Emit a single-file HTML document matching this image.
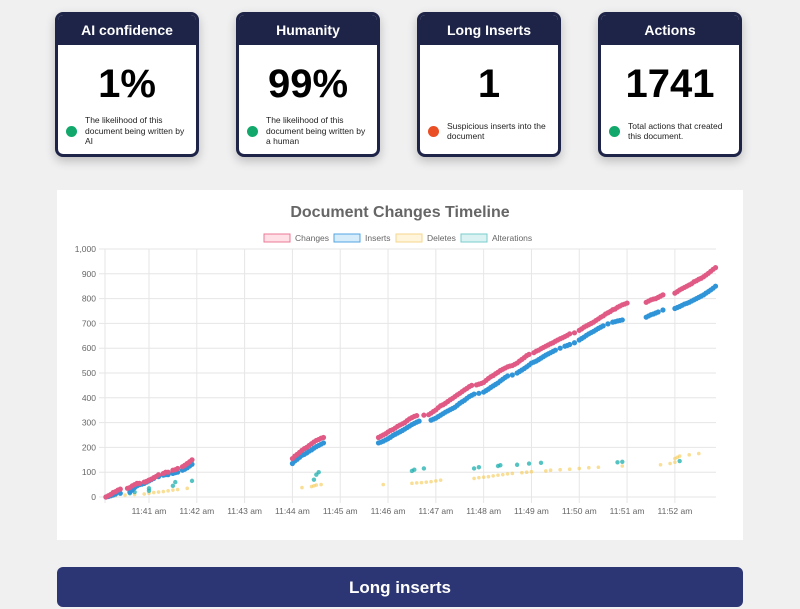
<!DOCTYPE html>
<html><head><meta charset="utf-8"><style>
body{margin:0;width:800px;height:600px;background:#f0f0f1;font-family:"Liberation Sans",sans-serif;overflow:hidden;position:relative}
.card{position:absolute;top:12px;width:138px;height:139px;border:3px solid #1e2447;border-radius:8px;background:#fff;box-shadow:0 4px 10px rgba(0,0,0,.22);overflow:hidden}
.card .hd{background:#1e2447;color:#fff;font-weight:bold;font-size:14px;text-align:center;height:30px;line-height:30px}
.card .val{font-size:40px;font-weight:bold;text-align:center;margin-top:14px;height:50px;line-height:50px;color:#000}
.card .desc{position:absolute;left:8px;right:6px;top:98px;height:36px;display:flex;align-items:center}
.card .dot{width:11px;height:11px;border-radius:50%;flex:none;margin-right:8px}
.card .desc span{font-size:8.5px;line-height:10.5px;color:#222}
#chartbox{position:absolute;left:57px;top:190px;width:686px;height:350px;background:#fff}
#bar{position:absolute;left:57px;top:567px;width:686px;height:40px;background:#2d3674;border-radius:6px;color:#fff;font-weight:bold;font-size:17px;text-align:center;line-height:42px}
</style></head><body>
<div class="card" style="left:55px"><div class="hd">AI confidence</div><div class="val">1%</div><div class="desc"><div class="dot" style="background:#13a86b"></div><span>The likelihood of this document being written by AI</span></div></div>
<div class="card" style="left:236px"><div class="hd">Humanity</div><div class="val">99%</div><div class="desc"><div class="dot" style="background:#13a86b"></div><span>The likelihood of this document being written by a human</span></div></div>
<div class="card" style="left:417px"><div class="hd">Long Inserts</div><div class="val">1</div><div class="desc"><div class="dot" style="background:#ea4e24"></div><span>Suspicious inserts into the document</span></div></div>
<div class="card" style="left:598px"><div class="hd">Actions</div><div class="val">1741</div><div class="desc"><div class="dot" style="background:#13a86b"></div><span>Total actions that created this document.</span></div></div>
<div id="chartbox">
<svg id="chart" width="686" height="350" style="font-family:'Liberation Sans',sans-serif"></svg>
</div>
<div id="bar">Long inserts</div>
<script>
const yTicks=[0,100,200,300,400,500,600,700,800,900,1000];
const xTickMinutes=[41,42,43,44,45,46,47,48,49,50,51,52];
const seriesNames=["Changes","Inserts","Deletes","Alterations"];
const changesT=[40.1,40.15,40.2,40.25,40.3,40.35,40.4,40.55,40.6,40.65,40.7,40.75,40.8,40.9,40.95,41.0,41.05,41.1,41.15,41.2,41.3,41.35,41.4,41.5,41.55,41.6,41.7,41.75,41.8,41.85,41.9,
44.0,44.05,44.1,44.15,44.2,44.25,44.3,44.35,44.4,44.45,44.5,44.55,44.6,44.65,
45.8,45.85,45.9,45.95,46.0,46.05,46.1,46.15,46.2,46.25,46.3,46.35,46.4,46.45,46.5,46.55,46.6,46.75,46.85,46.9,46.95,47.0,47.05,47.1,47.15,47.2,47.25,47.3,47.35,47.4,47.45,47.5,47.55,47.6,47.65,47.7,47.75,47.85,47.9,47.95,48.0,48.05,48.1,48.15,48.2,48.25,48.3,48.35,48.4,48.45,48.5,48.55,48.6,48.65,48.7,48.75,48.8,48.85,48.9,48.95,49.05,49.1,49.15,49.2,49.25,49.3,49.35,49.4,49.45,49.5,49.55,49.6,49.65,49.7,49.75,49.8,49.9,50.0,50.05,50.1,50.15,50.2,50.25,50.3,50.35,50.4,50.45,50.5,50.55,50.6,50.65,50.7,50.75,50.8,50.85,50.9,50.95,51.0,51.4,51.45,51.5,51.55,51.6,51.65,51.7,51.75,52.0,52.05,52.1,52.15,52.2,52.25,52.3,52.35,52.4,52.45,52.5,52.55,52.6,52.65,52.7,52.75,52.8,52.85];
const changesV=[0,5,10,18,22,28,32,35,38,45,50,55,55,60,63,68,72,78,83,90,95,100,100,108,110,115,122,128,135,142,150,
155,165,172,180,188,195,200,208,215,222,228,232,237,240,
240,245,250,255,262,268,272,278,285,290,295,300,308,315,320,325,328,330,332,338,345,351,360,368,372,378,385,392,398,405,412,418,425,432,438,445,450,452,455,458,462,470,478,485,490,497,503,510,515,520,525,528,530,535,540,548,555,562,570,575,582,588,592,598,603,608,613,618,622,628,633,638,642,647,652,658,662,672,678,685,690,695,700,705,712,718,725,730,738,743,748,755,758,765,770,775,778,782,785,790,795,798,800,805,810,815,822,828,835,840,845,850,855,860,868,872,878,882,888,895,902,910,918,925];
const insertsT=[40.1,40.15,40.2,40.25,40.3,40.4,40.6,40.65,40.7,40.75,40.8,40.85,40.9,40.95,41.0,41.05,41.1,41.2,41.3,41.35,41.4,41.5,41.55,41.6,41.7,41.75,41.8,41.85,41.9,
44.0,44.05,44.1,44.15,44.2,44.25,44.3,44.35,44.4,44.45,44.5,44.55,44.6,44.65,
45.8,45.85,45.9,45.95,46.0,46.05,46.1,46.15,46.2,46.25,46.3,46.35,46.4,46.45,46.5,46.55,46.6,46.65,46.9,46.95,47.0,47.05,47.1,47.15,47.2,47.25,47.3,47.35,47.4,47.45,47.5,47.55,47.6,47.65,47.7,47.75,47.8,47.9,48.0,48.05,48.1,48.15,48.2,48.25,48.3,48.35,48.4,48.45,48.5,48.6,48.7,48.75,48.8,48.85,48.9,48.95,49.0,49.05,49.1,49.15,49.2,49.25,49.3,49.35,49.4,49.45,49.5,49.6,49.7,49.75,49.8,49.9,50.0,50.05,50.1,50.15,50.2,50.25,50.3,50.35,50.4,50.45,50.5,50.6,50.7,50.75,50.8,50.85,50.9,51.4,51.45,51.5,51.55,51.6,51.65,51.75,52.0,52.05,52.1,52.15,52.2,52.25,52.3,52.35,52.4,52.45,52.5,52.55,52.6,52.65,52.7,52.75,52.8,52.85];
const insertsV=[0,2,5,8,12,15,20,28,38,45,50,52,55,60,65,70,75,82,88,90,90,95,98,100,108,112,118,125,132,
135,145,152,160,168,172,178,185,190,197,203,208,213,218,
218,221,225,230,235,241,248,253,258,263,268,274,280,286,292,297,302,306,310,314,318,324,330,336,342,347,352,357,362,370,378,384,390,398,405,410,415,418,423,429,435,442,448,454,460,468,475,482,488,492,500,506,512,518,525,532,540,544,548,554,560,566,572,577,582,587,592,600,608,611,615,622,633,639,645,652,658,663,668,674,680,685,690,698,705,707,710,712,714,725,730,735,738,742,746,754,760,764,768,773,778,781,785,790,795,800,805,810,815,822,828,835,842,850];
const deletesT=[40.1,40.3,40.5,40.7,40.9,41.0,41.1,41.2,41.3,41.4,41.5,41.6,41.8,44.2,44.4,44.45,44.5,44.6,45.9,46.5,46.6,46.7,46.8,46.9,47.0,47.1,47.8,47.9,48.0,48.1,48.2,48.3,48.4,48.5,48.6,48.8,48.9,49.0,49.3,49.4,49.6,49.8,50.0,50.2,50.4,50.9,51.7,51.9,52.0,52.0,52.05,52.1,52.3,52.5];
const deletesV=[0,5,8,10,12,15,18,20,22,25,28,30,35,38,42,45,48,50,50,55,57,58,60,62,65,68,75,78,80,82,85,88,90,93,95,98,100,102,105,108,110,112,115,118,120,125,130,135,140,155,160,165,170,175];
const altersT=[40.6,40.7,41.0,41.0,41.5,41.55,41.9,44.45,44.5,44.55,46.5,46.55,46.75,47.8,47.9,48.3,48.35,48.7,48.95,49.2,50.8,50.9,52.1];
const altersV=[15,20,25,35,45,60,65,70,90,100,105,110,115,115,120,125,128,130,135,138,140,142,145];

const svg=document.getElementById('chart');const NS='http://www.w3.org/2000/svg';
const L=48,R=659,T=59,B=307;
const tMin=40.08,tMax=52.86,vMax=1000;
const xS=t=>L+(t-tMin)/(tMax-tMin)*(R-L);
const yS=v=>B-v/vMax*(B-T);
function mk(tag,attrs,parent){const e=document.createElementNS(NS,tag);for(const k in attrs)e.setAttribute(k,attrs[k]);(parent||svg).appendChild(e);return e;}
const title=mk('text',{x:343,y:27,'text-anchor':'middle','font-size':16,'font-weight':'bold',fill:'#666'});
title.textContent='Document Changes Timeline';


yTicks.forEach(v=>{const y=yS(v);
const g=mk('line',{x1:L-6,x2:R,y1:y,y2:y,stroke:'#e6e6e6','stroke-width':1});


const t=mk('text',{x:L-9,y:y+3,'text-anchor':'end','font-size':8.5,fill:'#666'});t.textContent=v.toLocaleString('en-US');

});
mk('line',{x1:L,x2:L,y1:T,y2:B+6,stroke:'#e6e6e6'});
xTickMinutes.forEach(m=>{const x=xS(m);
const g=mk('line',{x1:x,x2:x,y1:T,y2:B+6,stroke:'#e6e6e6'});


const t=mk('text',{x:x,y:B+17,'text-anchor':'middle','font-size':8.5,fill:'#666'});t.textContent='11:'+m+' am';

});
const legCol=[['rgba(255,99,132,0.2)','rgb(235,120,150)'],['rgba(54,162,235,0.2)','rgb(80,165,225)'],['rgba(255,206,86,0.2)','rgb(245,215,140)'],['rgba(75,192,192,0.2)','rgb(120,205,205)']];
const legX=[207,277,339,404];
seriesNames.forEach((n,i)=>{
const g=mk('g',{});


mk('rect',{x:legX[i],y:44,width:26,height:8,fill:legCol[i][0],stroke:legCol[i][1],'stroke-width':1},g);
const t=mk('text',{x:legX[i]+31,y:51,'font-size':8.5,fill:'#666'},g);t.textContent=n;});
function pts(T_,V_,color,r,name){const g=mk('g',{});


T_.forEach((t,i)=>{mk('circle',{cx:xS(t),cy:yS(V_[i]),r:r,fill:color},g);});}
pts(deletesT,deletesV,'rgba(245,200,80,0.6)',1.8,'deletes-series');
pts(altersT,altersV,'rgba(30,175,175,0.75)',2.2,'alterations-series');
pts(insertsT,insertsV,'#2f95d8',2.6,'inserts-series');
pts(changesT,changesV,'#e05a85',2.6,'changes-series');
</script>
</body></html>
